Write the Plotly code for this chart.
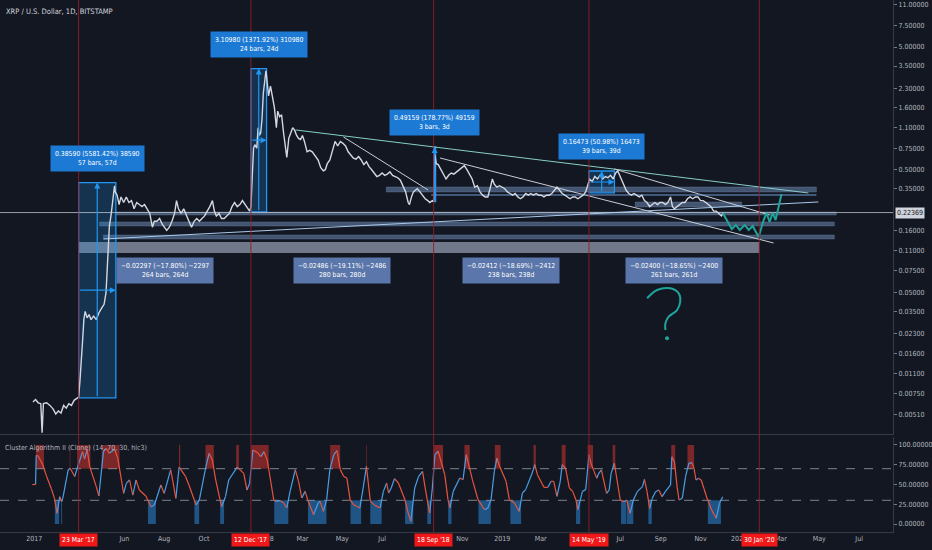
import numpy as np
import pandas as pd
import plotly.graph_objects as go

BASE = pd.Timestamp("2017-01-01")

# ---------------- data ----------------
# price: day offset since 2017-01-01, close in USD
price_day = [11, 15, 19, 23, 25, 27, 32, 37, 42, 46, 50, 54, 58, 62, 66, 70, 74, 78, 81, 83, 85, 87, 89, 91, 94, 97, 100,
             104, 108, 112, 116, 120, 123, 125, 128, 131, 134, 136, 137, 140, 143, 146, 150, 154, 158, 162, 166, 170, 174,
             178, 182, 186, 190, 194, 197, 201, 205, 209, 213, 216, 220, 224, 228, 231, 234, 238, 242, 246, 250, 254, 258,
             262, 266, 270, 274, 278, 282, 286, 289, 292, 296, 300, 304, 308, 312, 316, 320, 324, 328, 332, 336, 340, 343,
             345, 347, 349, 351, 354, 356, 358, 360, 362, 364, 366, 368, 369, 372, 375, 378, 381, 384, 386, 389, 392, 395,
             398, 400, 403, 406, 409, 412, 415, 418, 421, 424, 427, 431, 435, 439, 442, 445, 448, 452, 456, 459, 462, 466,
             470, 474, 478, 482, 486, 490, 494, 498, 502, 506, 510, 514, 518, 522, 526, 530, 534, 538, 542, 546, 550, 554,
             558, 562, 566, 570, 574, 578, 582, 586, 588, 591, 594, 597, 600, 604, 608, 612, 616, 619, 623, 625, 627, 629,
             632, 636, 640, 644, 648, 652, 656, 660, 664, 668, 672, 676, 680, 684, 688, 692, 696, 700, 704, 708, 712, 715,
             718, 722, 726, 730, 734, 738, 742, 746, 750, 754, 758, 762, 766, 770, 774, 778, 782, 786, 790, 794, 798, 802,
             806, 810, 814, 818, 822, 826, 830, 834, 838, 842, 846, 850, 854, 858, 861, 864, 868, 872, 876, 880, 884, 888,
             892, 896, 900, 904, 907, 910, 913, 916, 920, 924, 928, 932, 936, 940, 944, 948, 952, 956, 960, 964, 968, 972,
             976, 980, 984, 988, 991, 994, 998, 1002, 1006, 1010, 1014, 1018, 1022, 1026, 1030, 1034, 1038, 1042, 1046,
             1050, 1054, 1058, 1062, 1066, 1069]
price_close = [0.0064, 0.0067, 0.0063, 0.0062, 0.0036, 0.0062, 0.0063, 0.0060, 0.0056, 0.0051, 0.0054, 0.0052, 0.0060,
               0.0057, 0.0062, 0.0060, 0.0066, 0.0068, 0.0070, 0.0095, 0.013, 0.020, 0.030, 0.035, 0.031, 0.033, 0.030,
               0.032, 0.030, 0.034, 0.037, 0.040, 0.050, 0.085, 0.17, 0.22, 0.30, 0.37, 0.33, 0.31, 0.26, 0.30, 0.27,
               0.30, 0.27, 0.28, 0.24, 0.27, 0.26, 0.25, 0.26, 0.24, 0.22, 0.17, 0.19, 0.19, 0.20, 0.18, 0.17, 0.16,
               0.17, 0.19, 0.22, 0.28, 0.24, 0.22, 0.24, 0.21, 0.19, 0.17, 0.19, 0.20, 0.19, 0.20, 0.21, 0.23, 0.25,
               0.28, 0.23, 0.21, 0.22, 0.20, 0.20, 0.21, 0.22, 0.25, 0.27, 0.25, 0.26, 0.28, 0.26, 0.24, 0.23,
               0.25, 0.45, 0.75, 0.80, 0.75, 1.10, 0.95, 1.00, 1.30, 2.10, 2.50, 3.20, 2.90, 2.00, 2.40, 2.00, 1.60,
               1.10, 1.50, 1.35, 1.40, 1.00, 0.70, 0.63, 0.90, 1.00, 1.10, 1.05, 0.95, 0.90, 0.88, 0.95, 0.85, 0.70,
               0.72, 0.70, 0.66, 0.63, 0.60, 0.52, 0.49, 0.50, 0.56, 0.60, 0.72, 0.85, 0.78, 0.85, 0.82, 0.78, 0.70,
               0.66, 0.62, 0.61, 0.64, 0.60, 0.55, 0.58, 0.53, 0.50, 0.47, 0.44, 0.45, 0.47, 0.45, 0.46, 0.48, 0.45,
               0.44, 0.43, 0.41, 0.37, 0.33, 0.27, 0.26, 0.30, 0.33, 0.34, 0.35, 0.33, 0.31, 0.29, 0.28, 0.27, 0.28,
               0.275, 0.66, 0.56, 0.55, 0.50, 0.45, 0.42, 0.45, 0.47, 0.46, 0.48, 0.50, 0.52, 0.54, 0.50, 0.46, 0.42,
               0.36, 0.37, 0.33, 0.31, 0.30, 0.30, 0.36, 0.42, 0.38, 0.36, 0.37, 0.36, 0.35, 0.33, 0.32, 0.31, 0.32,
               0.30, 0.29, 0.30, 0.32, 0.31, 0.32, 0.31, 0.32, 0.31, 0.31, 0.30, 0.31, 0.31, 0.32, 0.34, 0.36, 0.34,
               0.32, 0.31, 0.30, 0.29, 0.30, 0.30, 0.29, 0.30, 0.31, 0.33, 0.38, 0.42, 0.40, 0.44, 0.42, 0.45, 0.42,
               0.44, 0.43, 0.45, 0.42, 0.47, 0.49, 0.45, 0.40, 0.38, 0.34, 0.32, 0.31, 0.32, 0.31, 0.30, 0.31, 0.28,
               0.27, 0.25, 0.26, 0.27, 0.26, 0.27, 0.27, 0.26, 0.27, 0.30, 0.25, 0.24, 0.25, 0.26, 0.27, 0.27, 0.29,
               0.30, 0.29, 0.30, 0.30, 0.28, 0.28, 0.27, 0.26, 0.25, 0.23, 0.23, 0.22, 0.21, 0.2237]
last_price = 0.22369

# oscillator ("Cluster Algorithm II"): day offset, value
osc_day = [10, 15, 16, 19, 26, 32, 39, 44, 48, 52, 55, 57, 65, 68, 75, 78, 87, 90, 94, 98, 108, 112, 119, 123, 128, 136,
           141, 150, 154, 159, 164, 169, 174, 184, 192, 197, 207, 212, 222, 225, 230, 235, 245, 250, 261, 266, 276, 281,
           286, 291, 300, 306, 311, 324, 334, 339, 343, 348, 355, 360, 365, 370, 375, 380, 383, 390, 395, 400, 405, 413,
           418, 423, 428, 432, 441, 448, 451, 456, 461, 466, 472, 477, 482, 487, 492, 497, 502, 507, 512, 517, 522, 528,
           535, 543, 548, 553, 556, 560, 565, 571, 581, 586, 590, 596, 602, 608, 612, 616, 619, 623, 627, 632, 637, 642,
           647, 650, 655, 665, 670, 675, 680, 685, 693, 703, 708, 713, 718, 722, 726, 736, 741, 749, 756, 761, 766, 776,
           780, 784, 794, 800, 805, 809, 814, 819, 822, 827, 833, 838, 843, 846, 853, 858, 863, 866, 871, 875, 878, 882,
           886, 890, 894, 897, 902, 906, 911, 917, 921, 926, 931, 937, 945, 948, 952, 956, 960, 965, 970, 975, 980, 988,
           990, 994, 998, 1001, 1006, 1011, 1016, 1021, 1024, 1027, 1031, 1035, 1039, 1044, 1051, 1058, 1063, 1068]
osc_value = [50, 50, 87, 86, 75, 60, 45, 32.5, 13.5, 34.6, 28.3, 33.8, 68.4, 70.5, 60, 68.4, 91.5, 82, 94.5, 72.6, 47.3,
             35.4, 91.5, 95.7, 89.4, 94.5, 83, 38.8, 51.5, 55.7, 36.7, 55.7, 43, 35.4, 21.9, 24, 49.4, 38.8, 68.4, 55.7,
             32.5, 72, 59.9, 49.4, 24, 30.4, 72.6, 89.4, 81, 55.7, 21.9, 34.6, 55.7, 72, 64.1, 43, 51.5, 93.6, 90.3,
             85.2, 91.5, 81, 55.7, 30.4, 28.7, 29.5, 26.6, 20.3, 41.3, 68.8, 54, 32.9, 41.3, 30.8, 11.8, 26.6, 28.7, 16,
             30.8, 68.8, 87.8, 92.8, 68.8, 60.3, 58.2, 30.8, 24.5, 22.4, 20.3, 45.6, 73, 28.7, 23.6, 20.3, 41.3, 51.9,
             39.2, 45.6, 57.4, 51.9, 30.8, 13.9, 3.4, 45.6, 60.3, 66.7, 45.6, 26.6, 13.9, 45.6, 87.8, 92, 77.2, 62.4,
             30.8, 20.3, 41.3, 58.2, 56.1, 87.8, 70.9, 54, 30.8, 18.1, 20.3, 30.8, 66.7, 83.5, 73, 54, 30.8, 26.6, 16,
             39.2, 43.5, 64.6, 75.1, 62.4, 46.4, 46.4, 54, 54, 35, 54, 75.1, 70.9, 45.6, 41.3, 30.8, 18.1, 41.3, 43.5,
             87.8, 76.8, 66.3, 57.9, 64.1, 68.4, 53.6, 38.8, 43, 64.1, 76.8, 55.7, 30.4, 28.3, 30.4, 13.5, 30.4, 40.9,
             47.3, 56.5, 40.9, 19.8, 32.5, 40.9, 43, 34.6, 40.9, 49.4, 85.2, 78.9, 47.3, 30.4, 32.5, 60, 76.8, 77.6,
             70.5, 55.7, 57.8, 55.7, 45.2, 32.5, 17.7, 7.2, 26.2, 34.6]
osc_upper = 70
osc_lower = 30

# price-range measurements
measure_start = ["2017-03-23", "2017-12-12", "2018-09-18", "2019-05-14"]
measure_bars = [57, 24, 3, 39]
measure_low = [0.006914, 0.22667, 0.27500, 0.32310]
measure_change = [0.38590, 3.10980, 0.49159, 0.16473]
measure_pct = [5581.42, 1371.92, 178.77, 50.98]

# date-range measurements (between the red markers)
marker_dates = ["2017-03-23", "2017-12-12", "2018-09-18", "2019-05-14", "2020-01-30"]
marker_text = ["23 Mar '17", "12 Dec '17", "18 Sep '18", "14 May '19", "30 Jan '20"]
range_change = [-0.02297, -0.02486, -0.02412, -0.02400]
range_pct = [-17.80, -19.11, -18.69, -18.65]
range_bars = [264, 280, 238, 261]
range_band_low = 0.1048
range_band_high = 0.1288

# horizontal zones
band_start_day = [552.4, 139, 113, 119, 933.9]
band_end_day = [1211.5, 1242, 1239, 1239, 1097.1]
band_low = [0.3292, 0.2138, 0.1739, 0.1362, 0.2484]
band_high = [0.3614, 0.2262, 0.1874, 0.1468, 0.2729]

# trend lines
trend_day0 = [413.6, 486.8, 634.8, 901.8, 119.1, 621.2]
trend_p0 = [1.054, 0.924, 0.6229, 0.5069, 0.1362, 0.3111]
trend_day1 = [1199.3, 616.5, 1145.9, 1139.8, 1214.5, 1211.5]
trend_p1 = [0.3230, 0.3418, 0.1264, 0.2138, 0.2729, 0.3111]
trend_color = ["#86cfc4", "#c9cdd6", "#c9cdd6", "#c9cdd6", "#a9c8ea", "#6f9fd8"]

# hand drawn projection path and question mark
path_day = [1068.1, 1081.9, 1088.0, 1094.1, 1101.7, 1107.8, 1113.9, 1123.0, 1130.7, 1135.2, 1139.8, 1144.4, 1149.0, 1158.1]
path_price = [0.2220, 0.1643, 0.1772, 0.1613, 0.1772, 0.1613, 0.1739, 0.1414, 0.1946, 0.2220, 0.1874, 0.2220, 0.1946, 0.317]
qmark_day = [952.1, 967.4, 987.7, 1000.5, 1002.9, 997.9, 985.2, 980.1, 980.1]
qmark_price = [0.04477, 0.05232, 0.0540, 0.0492, 0.0420, 0.0359, 0.0317, 0.0280, 0.0247]
qdot_day = [982.6]
qdot_price = [0.02113]

price_ticks = [11, 7.5, 5, 3.5, 2.3, 1.6, 1.1, 0.75, 0.5, 0.35, 0.16, 0.11, 0.075, 0.05, 0.035, 0.023, 0.016, 0.011,
               0.0075, 0.0051]
osc_ticks = [0, 25, 50, 75, 100]
# "8" and "202" are the parts of 2018 / 2020 left visible beside the red date markers
time_tick_dates = ["2017-01-14", "2017-06-01", "2017-08-01", "2017-10-01", "2018-01-13", "2018-03-01", "2018-05-01",
                   "2018-07-01", "2018-11-01", "2019-01-01", "2019-03-01", "2019-07-01", "2019-09-01", "2019-11-01",
                   "2019-12-27", "2020-03-03", "2020-05-01", "2020-07-01"]
time_tick_text = ["2017", "Jun", "Aug", "Oct", "8", "Mar", "May", "Jul", "Nov", "2019", "Mar", "Jul", "Sep", "Nov",
                  "202", "Mar", "May", "Jul"]

# ---------------- helpers ----------------
def to_dates(days):
    return BASE + pd.to_timedelta(np.asarray(days, dtype=float), unit="D")

def ds(ts):
    return pd.Timestamp(ts).strftime("%Y-%m-%d %H:%M:%S")

BG = "#131722"
TXT = "#b2b5be"
FONT = "Liberation Sans Narrow, DejaVu Sans Condensed, Roboto Condensed, Roboto, sans-serif"
x_start = BASE + pd.Timedelta(days=-39.5)
x_end = BASE + pd.Timedelta(days=1328.9)

fig = go.Figure()

def rect(x0, x1, lo, hi, fill, line, width=1.0, xa="x", ya="y"):
    fig.add_trace(go.Scatter(x=[x0, x1, x1, x0, x0], y=[lo, lo, hi, hi, lo], mode="lines",
                             fill="toself", fillcolor=fill, line=dict(color=line, width=width),
                             hoverinfo="skip", xaxis=xa, yaxis=ya))

# zones
for i in range(len(band_low)):
    d = to_dates([band_start_day[i], band_end_day[i]])
    rect(d[0], d[1], band_low[i], band_high[i], "rgba(105,135,175,0.55)", "rgba(120,150,190,0.6)", 0.5)

# date range bands
for i in range(4):
    rect(pd.Timestamp(marker_dates[i]), pd.Timestamp(marker_dates[i + 1]), range_band_low, range_band_high,
         "rgba(150,158,178,0.72)", "rgba(150,158,178,0.0)", 0.1)

# measurement boxes
for i in range(4):
    s = pd.Timestamp(measure_start[i])
    e = s + pd.Timedelta(days=measure_bars[i])
    lo = measure_low[i]
    hi = lo + measure_change[i]
    rect(s, e, lo, hi, "rgba(33,150,243,0.22)", "#2196f3", 1.3)

# trend lines
for i in range(len(trend_p0)):
    d = to_dates([trend_day0[i], trend_day1[i]])
    fig.add_trace(go.Scatter(x=d, y=[trend_p0[i], trend_p1[i]], mode="lines",
                             line=dict(color=trend_color[i], width=1), hoverinfo="skip"))

# last price line
fig.add_trace(go.Scatter(x=[x_start, x_end], y=[last_price, last_price], mode="lines",
                         line=dict(color="rgba(200,205,215,0.75)", width=1), hoverinfo="skip"))

# price
fig.add_trace(go.Scatter(x=to_dates(price_day), y=price_close, mode="lines",
                         line=dict(color="#d4d7df", width=1.4), hoverinfo="skip"))

# projection path and question mark
fig.add_trace(go.Scatter(x=to_dates(path_day), y=path_price, mode="lines",
                         line=dict(color="#1fa39a", width=2), hoverinfo="skip"))
fig.add_trace(go.Scatter(x=to_dates(qmark_day), y=qmark_price, mode="lines",
                         line=dict(color="#1fa39a", width=2, shape="spline"), hoverinfo="skip"))
fig.add_trace(go.Scatter(x=to_dates(qdot_day), y=qdot_price, mode="markers",
                         marker=dict(color="#1fa39a", size=4), hoverinfo="skip"))

# ---------------- oscillator ----------------
od = np.array(osc_day, float)
ov = np.array(osc_value, float)

def zones(above, level):
    out, start = [], None
    for i in range(len(od)):
        inside = ov[i] > level if above else ov[i] < level
        if inside and start is None:
            start = od[0] if i == 0 else od[i - 1] + (level - ov[i - 1]) / (ov[i] - ov[i - 1]) * (od[i] - od[i - 1])
        if not inside and start is not None:
            end = od[i - 1] + (level - ov[i - 1]) / (ov[i] - ov[i - 1]) * (od[i] - od[i - 1])
            out.append((start, end))
            start = None
    if start is not None:
        out.append((start, od[-1]))
    return out

for (a, b) in zones(True, osc_upper):
    d = to_dates([a, b])
    rect(d[0], d[1], osc_upper, 100, "rgba(150,42,42,0.8)", "rgba(150,42,42,0.0)", 0.1, "x2", "y2")
for (a, b) in zones(False, osc_lower):
    d = to_dates([a, b])
    rect(d[0], d[1], 0, osc_lower, "rgba(36,105,165,0.75)", "rgba(36,105,165,0.0)", 0.1, "x2", "y2")

for lvl in (osc_upper, osc_lower):
    fig.add_trace(go.Scatter(x=[x_start, x_end], y=[lvl, lvl], mode="lines", xaxis="x2", yaxis="y2",
                             line=dict(color="rgba(170,175,185,0.7)", width=1, dash="dash"), hoverinfo="skip"))

up_x, up_y, dn_x, dn_y = [], [], [], []
odates = to_dates(osc_day)
for i in range(len(ov) - 1):
    if ov[i + 1] > ov[i]:
        up_x += [odates[i], odates[i + 1], None]
        up_y += [ov[i], ov[i + 1], None]
    else:
        dn_x += [odates[i], odates[i + 1], None]
        dn_y += [ov[i], ov[i + 1], None]
fig.add_trace(go.Scatter(x=up_x, y=up_y, mode="lines", xaxis="x2", yaxis="y2",
                         line=dict(color="#4a9fe6", width=1.2), hoverinfo="skip"))
fig.add_trace(go.Scatter(x=dn_x, y=dn_y, mode="lines", xaxis="x2", yaxis="y2",
                         line=dict(color="#e8553f", width=1.2), hoverinfo="skip"))

# ---------------- annotations ----------------
ann = []
lab_font = dict(family=FONT, size=6.8, color="#ffffff")
for i in range(4):
    s = pd.Timestamp(measure_start[i])
    e = s + pd.Timedelta(days=measure_bars[i])
    mid = s + (e - s) / 2
    lo = measure_low[i]
    hi = lo + measure_change[i]
    txt = f"{measure_change[i]:.5f} ({measure_pct[i]:.2f}%) {int(round(measure_change[i] * 1e5))}<br>" \
          f"{measure_bars[i]} bars, {measure_bars[i]}d"
    ann.append(dict(x=ds(mid), y=np.log10(hi), xref="x", yref="y", text=txt, showarrow=False,
                    yanchor="bottom", yshift=11, bgcolor="#1d7ad4", borderpad=4, font=lab_font))
    ann.append(dict(x=ds(mid), y=np.log10(hi), ax=ds(mid), ay=np.log10(lo), xref="x", yref="y", axref="x",
                    ayref="y", showarrow=True, arrowhead=2, arrowsize=1, arrowwidth=1.2, arrowcolor="#2196f3",
                    text=""))
    if measure_bars[i] > 5:
        lm = (np.log10(lo) + np.log10(hi)) / 2
        ann.append(dict(x=ds(e), y=lm, ax=ds(s), ay=lm, xref="x", yref="y", axref="x", ayref="y",
                        showarrow=True, arrowhead=2, arrowsize=1, arrowwidth=1.2, arrowcolor="#2196f3", text=""))

for i in range(4):
    s = pd.Timestamp(marker_dates[i])
    e = pd.Timestamp(marker_dates[i + 1])
    mid = s + (e - s) / 2
    txt = f"\u2212{abs(range_change[i]):.5f} (\u2212{abs(range_pct[i]):.2f}%) \u2212{int(round(abs(range_change[i]) * 1e5))}" \
          f"<br>{range_bars[i]} bars, {range_bars[i]}d"
    ann.append(dict(x=ds(mid), y=np.log10(range_band_low), xref="x", yref="y", text=txt, showarrow=False,
                    yanchor="top", yshift=-4, bgcolor="#5a76aa", borderpad=4, font=lab_font))

for dte, t in zip(marker_dates, marker_text):
    ann.append(dict(x=dte, y=0, xref="x2", yref="paper", text=t, showarrow=False, yanchor="top", yshift=-1,
                    bgcolor="#f01818", borderpad=2, font=dict(family=FONT, size=6.8, color="#ffffff")))

ann.append(dict(x=1, y=np.log10(last_price), xref="paper", yref="y", text=f"{last_price:.5f}", showarrow=False,
                xanchor="left", xshift=2, bgcolor="#d1d4dc", borderpad=1,
                font=dict(family=FONT, size=7, color="#131722")))
ann.append(dict(x=0, y=1, xref="paper", yref="paper", text="XRP / U.S. Dollar, 1D, BITSTAMP", showarrow=False,
                xanchor="left", yanchor="top", xshift=4, yshift=-5, font=dict(family=FONT, size=7.5, color="#d1d4dc")))
ann.append(dict(x=0, y=0.1786, xref="paper", yref="paper", text="Cluster Algorithm II (Clone) (14, 70, 30, hlc3)",
                showarrow=False, xanchor="left", yanchor="top", xshift=3, yshift=-5,
                font=dict(family=FONT, size=7, color="#b2b5be")))

shapes = [dict(type="line", xref="x", yref="paper", x0=d, x1=d, y0=0, y1=1,
               line=dict(color="rgba(150,30,38,0.85)", width=1)) for d in marker_dates]

axis_common = dict(showgrid=False, zeroline=False, showline=True, linecolor="#363a45", linewidth=1)
fig.update_layout(
    width=932, height=550, margin=dict(l=0, r=35, t=0, b=18),
    paper_bgcolor=BG, plot_bgcolor=BG, showlegend=False,
    font=dict(family=FONT, size=7, color=TXT),
    xaxis=dict(domain=[0, 1], anchor="y", type="date", range=[x_start, x_end], showticklabels=False, ticks="",
               **axis_common),
    xaxis2=dict(domain=[0, 1], anchor="y2", matches="x", type="date", range=[x_start, x_end],
                tickvals=time_tick_dates, ticktext=time_tick_text, ticks="", tickfont=dict(size=7, color=TXT),
                **axis_common),
    yaxis=dict(domain=[0.1842, 1], anchor="x", type="log", range=[-2.455, 1.082], side="right",
               tickvals=price_ticks, ticktext=[f"{v:.5f}" for v in price_ticks], ticks="outside", ticklen=3,
               tickcolor="#787b86", tickfont=dict(size=7, color=TXT), **axis_common),
    yaxis2=dict(domain=[0, 0.1786], anchor="x2", range=[-10.1, 110.1], side="right",
                tickvals=osc_ticks, ticktext=[f"{v:.5f}" for v in osc_ticks], ticks="outside", ticklen=3,
                tickcolor="#787b86", tickfont=dict(size=7, color=TXT), **axis_common),
    annotations=ann, shapes=shapes,
)

fig.write_html("out.html", config={"displayModeBar": False},
               post_script="document.body.style.margin='0';document.body.style.overflow='hidden';")
